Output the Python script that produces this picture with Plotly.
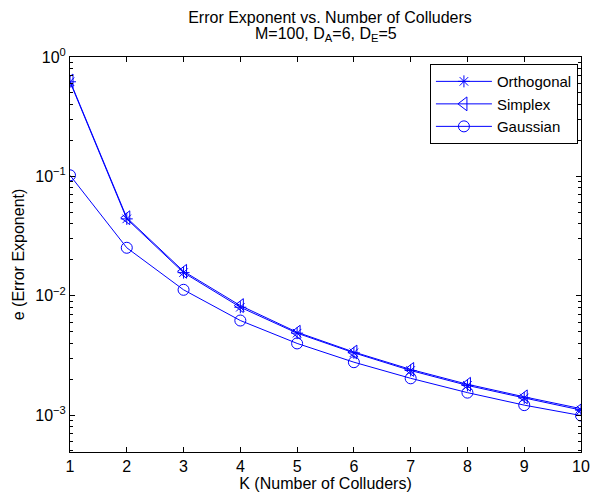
import plotly.graph_objects as go

K = [1, 2, 3, 4, 5, 6, 7, 8, 9, 10]
orthogonal = [0.62, 0.0440, 0.0156, 0.0080, 0.00485, 0.00332, 0.00236, 0.00177, 0.00139, 0.00110]
simplex = [0.63, 0.0450, 0.0160, 0.00826, 0.00494, 0.00337, 0.00241, 0.00181, 0.00142, 0.00113]
gaussian = [0.102, 0.0252, 0.0112, 0.00619, 0.00398, 0.00277, 0.00203, 0.00154, 0.00121, 0.00099]

ytickvals = [1, 0.1, 0.01, 0.001]
yticktext = ["10<sup>0</sup>", "10<sup>−1</sup>", "10<sup>−2</sup>", "10<sup>−3</sup>"]
yminorvals = [m * d for d in [0.0001, 0.001, 0.01, 0.1] for m in range(2, 10)]

title_line1 = "Error Exponent vs. Number of Colluders"
title_line2 = "M=100, D<sub>A</sub>=6, D<sub>E</sub>=5"

blue = "#0000ff"
FAM = "Liberation Sans, Arial, Helvetica"
FS = 16

fig = go.Figure()
fig.add_trace(go.Scatter(x=K, y=orthogonal, name="Orthogonal", mode="lines+markers",
                         line=dict(color=blue, width=1),
                         marker=dict(symbol="asterisk-open", size=10, color=blue, line=dict(color=blue, width=1))))
fig.add_trace(go.Scatter(x=K, y=simplex, name="Simplex", mode="lines+markers",
                         line=dict(color=blue, width=1),
                         marker=dict(symbol="triangle-left-open", size=12, color=blue, line=dict(color=blue, width=1))))
fig.add_trace(go.Scatter(x=K, y=gaussian, name="Gaussian", mode="lines+markers",
                         line=dict(color=blue, width=1),
                         marker=dict(symbol="circle-open", size=11, color=blue, line=dict(color=blue, width=1))))

fig.update_layout(
    width=600, height=499,
    margin=dict(l=70, r=10, t=57, b=45),
    paper_bgcolor="white", plot_bgcolor="white",
    font=dict(family=FAM, size=FS, color="black"),
    title=dict(text=title_line1, x=(70 + 590) / 2 / 600, xanchor="center",
               yref="container", y=1 - 17 / 499, yanchor="middle", font=dict(size=FS)),
    annotations=[dict(text=title_line2, xref="paper", yref="paper", x=0.5, y=(454 - 34) / 397,
                      xanchor="center", yanchor="middle", showarrow=False, font=dict(size=FS))],
    showlegend=True,
    legend=dict(x=0.994, y=0.982, xanchor="right", yanchor="top",
                bgcolor="white", bordercolor="black", borderwidth=1,
                font=dict(size=15), tracegroupgap=0, itemwidth=56),
)
fig.update_xaxes(range=[1, 10], tickvals=K, ticks="inside", ticklen=5, tickcolor="black",
                 showline=True, linecolor="black", linewidth=1, mirror="allticks",
                 showgrid=False, zeroline=False, tickfont=dict(size=FS),
                 title=dict(text="K (Number of Colluders)", font=dict(size=FS), standoff=3))
fig.update_yaxes(type="log", range=[-3.31, 0], tickvals=ytickvals, ticktext=yticktext,
                 ticks="inside", ticklen=5, tickcolor="black",
                 showline=True, linecolor="black", linewidth=1, mirror="allticks",
                 showgrid=False, zeroline=False, tickfont=dict(size=FS),
                 minor=dict(tickmode="array", tickvals=yminorvals, ticks="inside", ticklen=3,
                            tickcolor="black", showgrid=False),
                 title=dict(text="e (Error Exponent)", font=dict(size=FS), standoff=6))
fig.write_html("out.html")
